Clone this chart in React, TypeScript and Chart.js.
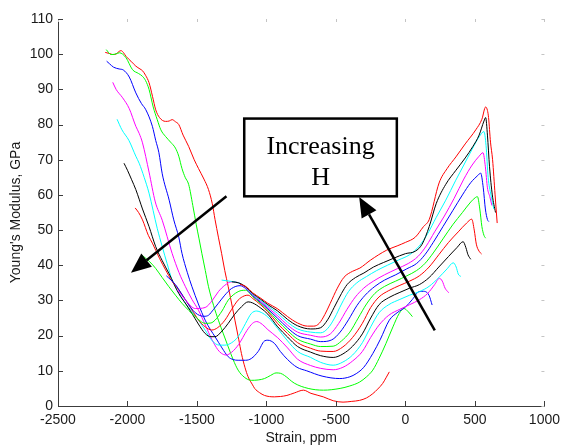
import React, { useEffect, useRef } from "react";
import { Chart, registerables } from "chart.js";

Chart.register(...registerables);

// ---- axis ticks ----
const xTickValues = [-2500, -2000, -1500, -1000, -500, 0, 500, 1000];
const yTickValues = [0, 10, 20, 30, 40, 50, 60, 70, 80, 90, 100, 110];
const xTitle = "Strain, ppm";
const yTitle = "Young's Modulus, GPa";
const boxLines = ["Increasing", "H"];

// ---- curves: [strain ppm, modulus GPa] ----
const curve01Red: number[][] = [
  [-2160, 100.5], [-2130, 100.2], [-2106, 99.9], [-2080, 100.1], [-2060, 100.8], [-2046, 101], [-2030, 100.5],
  [-2011, 99.4], [-1975, 98], [-1940, 96.6], [-1910, 95.8], [-1892, 95.3], [-1870, 94], [-1845, 91.9],
  [-1820, 88], [-1797, 84.2], [-1770, 82], [-1726, 80.9], [-1700, 81], [-1679, 81.4], [-1655, 80.8],
  [-1631, 80], [-1600, 77], [-1560, 73.8], [-1520, 70], [-1489, 67.5], [-1450, 64.5], [-1417, 61.5],
  [-1390, 57.5], [-1370, 53], [-1346, 48], [-1323, 43.4], [-1300, 38.5], [-1275, 33.9], [-1250, 29],
  [-1227, 24.4], [-1200, 19], [-1180, 14.9], [-1155, 11], [-1132, 8.3], [-1100, 6], [-1085, 5],
  [-1050, 3.8], [-1014, 3], [-943, 2.6], [-900, 2.7], [-853, 3], [-800, 3.7], [-734, 4.5], [-680, 3.6],
  [-591, 2.6], [-520, 1.5], [-449, 1.1], [-390, 1.3], [-330, 1.6], [-280, 2.3], [-235, 3.5], [-200, 4.8],
  [-164, 6.4], [-140, 8], [-116, 9.7],
];
const curve02Green: number[][] = [
  [-2153, 101.3], [-2118, 99.9], [-2090, 100], [-2058, 100.4], [-2011, 99], [-1964, 95.6], [-1920, 94.5],
  [-1892, 93.7], [-1870, 92.5], [-1845, 90], [-1815, 85], [-1786, 81.4], [-1760, 78.5], [-1726, 76.6],
  [-1690, 75], [-1655, 73.3], [-1631, 71], [-1608, 67.5], [-1585, 65], [-1560, 63], [-1530, 57],
  [-1505, 51.5], [-1485, 47.5], [-1465, 43.4], [-1440, 38.5], [-1417, 33.9], [-1380, 28.5], [-1346, 24.4],
  [-1310, 20.5], [-1275, 16.8], [-1240, 13.2], [-1204, 10.2], [-1160, 8.2], [-1109, 7.3], [-1060, 7.4],
  [-1014, 7.8], [-970, 8.7], [-931, 9.4], [-900, 9.3], [-871, 8.7], [-800, 6.5], [-700, 5], [-590, 4.5],
  [-470, 5], [-400, 5.7], [-330, 6.8], [-280, 8.3], [-235, 10.2], [-190, 13.5], [-140, 17.8], [-90, 22.5],
  [-45, 26.3], [-10, 27.7], [20, 26.8], [50, 25.4],
];
const curve03Blue: number[][] = [
  [-2150, 98], [-2130, 97.3], [-2100, 96.3], [-2060, 95.8], [-2030, 95.5], [-1987, 93.5], [-1940, 89],
  [-1900, 86], [-1868, 84.2], [-1821, 79.5], [-1797, 75.5], [-1774, 72], [-1750, 66], [-1700, 58.5],
  [-1667, 52.9], [-1631, 48], [-1608, 43.4], [-1570, 38], [-1536, 33.9], [-1490, 29], [-1441, 24.4],
  [-1400, 21.5], [-1370, 19.7], [-1320, 16.5], [-1275, 14], [-1240, 13.2], [-1204, 13], [-1150, 13],
  [-1109, 13.5], [-1060, 15.5], [-1014, 18.5], [-990, 18.7], [-943, 17.8], [-900, 15.5], [-848, 13.2],
  [-780, 11], [-710, 10], [-600, 8.5], [-472, 7.8], [-400, 8.3], [-354, 9.2], [-300, 11], [-235, 14.9],
  [-180, 19], [-116, 24.4], [-60, 26.5], [2, 28.2], [50, 30.3], [97, 32.5], [130, 32.6], [169, 31.5],
  [192, 28.7],
];
const curve04Magenta: number[][] = [
  [-2106, 92], [-2082, 90], [-2035, 87.6], [-1987, 84.5], [-1940, 79.5], [-1916, 77.5], [-1892, 74.8],
  [-1845, 66.5], [-1800, 58], [-1750, 52.8], [-1679, 43.4], [-1630, 38], [-1583, 33.9], [-1536, 30.3],
  [-1489, 27.2], [-1440, 23], [-1394, 19], [-1350, 16], [-1325, 15], [-1290, 14.5], [-1250, 15.3],
  [-1200, 17.5], [-1140, 21.5], [-1100, 23.5], [-1070, 24], [-1030, 23.2], [-990, 21.7], [-919, 19.4],
  [-848, 16.5], [-776, 13.3], [-682, 11.5], [-610, 10.7], [-520, 10.3], [-450, 11], [-380, 12.8],
  [-310, 15.5], [-250, 19.5], [-190, 23], [-120, 25.8], [-40, 27.5], [30, 28.8], [100, 30.2], [160, 32],
  [210, 34.5], [244, 36.3], [265, 35.5], [285, 33.5], [311, 32.2],
];
const curve05Cyan: number[][] = [
  [-2075, 81.5], [-2040, 78.5], [-1990, 75.5], [-1940, 71], [-1916, 69], [-1880, 65], [-1845, 60.5],
  [-1786, 50.5], [-1750, 45.3], [-1715, 40.5], [-1679, 35.8], [-1630, 32], [-1583, 29.2], [-1536, 26.8],
  [-1489, 24.4], [-1440, 21.5], [-1394, 18.7], [-1340, 17.3], [-1299, 17.3], [-1250, 18], [-1204, 19.7],
  [-1150, 23.5], [-1109, 26.3], [-1070, 27], [-1038, 26.6], [-990, 25.3], [-919, 22], [-848, 18.5],
  [-776, 15.5], [-682, 13.8], [-610, 12.4], [-520, 11.6], [-450, 12.5], [-380, 14.5], [-310, 18],
  [-250, 22.5], [-190, 26.5], [-120, 28.8], [-40, 30.3], [30, 31.5], [100, 32.5], [170, 34], [240, 36.5],
  [300, 39], [344, 40.7], [365, 39.5], [380, 37.5], [399, 36.8],
];
const curve06Black: number[][] = [
  [-2025, 69], [-2000, 67], [-1970, 64.3], [-1940, 61.5], [-1892, 56], [-1845, 51], [-1797, 45.3],
  [-1750, 41.3], [-1702, 37.7], [-1631, 32], [-1580, 29], [-1536, 26.3], [-1490, 23.3], [-1441, 20.6],
  [-1400, 19.7], [-1370, 19.7], [-1320, 21.3], [-1275, 23.5], [-1230, 26], [-1180, 28.2], [-1132, 29.6],
  [-1100, 29.3], [-1040, 27.8], [-990, 26.1], [-919, 22.5], [-848, 19.6], [-776, 16.9], [-682, 15.3],
  [-610, 14.3], [-520, 13.8], [-450, 14.8], [-380, 17], [-310, 20.5], [-250, 25], [-190, 28.8], [-120, 30.8],
  [-40, 32.3], [30, 33.5], [100, 34.5], [170, 36.5], [240, 39.5], [310, 42.5], [370, 45], [415, 46.7],
  [435, 45], [450, 43], [470, 41.7],
];
const curve07Red: number[][] = [
  [-1945, 56.3], [-1920, 55], [-1892, 52.9], [-1850, 48.5], [-1821, 46.3], [-1770, 42], [-1726, 38.7],
  [-1680, 35.5], [-1631, 33], [-1580, 30], [-1536, 27.3], [-1490, 24.5], [-1441, 22.5], [-1394, 21.6],
  [-1350, 22.3], [-1299, 24.4], [-1250, 27.5], [-1204, 30.1], [-1160, 31.3], [-1132, 31.5], [-1100, 30.6],
  [-1040, 28.7], [-990, 26.8], [-919, 23.4], [-848, 20.6], [-776, 18], [-682, 16.4], [-610, 15.6],
  [-520, 15.5], [-450, 16.8], [-380, 19.5], [-310, 23.5], [-250, 28], [-190, 31], [-120, 32.8], [-40, 34.3],
  [30, 35.5], [100, 37], [170, 39.5], [240, 43], [310, 46.5], [380, 49.5], [440, 52], [477, 53.1],
  [495, 50], [510, 46], [530, 44], [548, 43.2],
];
const curve08Green: number[][] = [
  [-1900, 43], [-1840, 41], [-1797, 39.1], [-1750, 36.5], [-1702, 33.9], [-1655, 31.5], [-1608, 29.2],
  [-1560, 27.2], [-1512, 25.4], [-1441, 23.5], [-1400, 23.6], [-1370, 24.4], [-1320, 27], [-1275, 30.1],
  [-1204, 32.5], [-1150, 32.9], [-1100, 31.1], [-1040, 29.1], [-990, 27.2], [-919, 24.2], [-848, 21.4],
  [-776, 19], [-682, 17.6], [-610, 16.9], [-520, 17], [-460, 18.5], [-400, 21], [-340, 25], [-280, 29],
  [-220, 32], [-150, 34], [-70, 35.5], [10, 37], [80, 38.5], [140, 40.5], [200, 43.5], [270, 47.5],
  [340, 51.5], [410, 55], [470, 58], [505, 59.3], [518, 59.5], [535, 56], [550, 51], [565, 48.5],
  [577, 47.7],
];
const curve09Blue: number[][] = [
  [-1720, 37], [-1655, 34.5], [-1580, 30], [-1512, 26.5], [-1450, 25.5], [-1417, 25.8], [-1380, 27.5],
  [-1346, 29.2], [-1300, 31.5], [-1251, 33.4], [-1190, 34.2], [-1150, 33.4], [-1100, 31.4], [-1040, 29.4],
  [-990, 27.6], [-919, 24.9], [-848, 22.2], [-776, 20], [-682, 19], [-610, 18.3], [-530, 18.8], [-470, 21],
  [-410, 24.5], [-350, 28.5], [-290, 31.5], [-220, 34], [-150, 35.8], [-70, 37.3], [10, 39], [80, 40.5],
  [140, 43], [200, 46.5], [270, 51], [340, 55.5], [410, 60], [470, 63.5], [520, 65.5], [541, 66.2],
  [560, 62], [575, 56], [590, 53], [600, 52.4],
];
const curve10Magenta: number[][] = [
  [-1640, 33], [-1580, 30], [-1512, 27.7], [-1441, 28], [-1390, 30], [-1346, 32.5], [-1300, 34.3],
  [-1251, 35.3], [-1200, 35], [-1150, 33.6], [-1100, 31.6], [-1040, 29.7], [-990, 28], [-919, 25.6],
  [-848, 23], [-776, 21], [-682, 20.1], [-610, 19.6], [-540, 20.5], [-480, 23.5], [-420, 27.5], [-360, 31],
  [-300, 33.5], [-230, 35.5], [-150, 37.3], [-60, 39], [20, 40.5], [90, 42.5], [150, 45.5], [210, 49.5],
  [280, 54], [350, 59], [420, 64.5], [480, 68.5], [530, 71], [558, 72], [575, 68], [590, 62],
  [607, 59.5], [622, 57],
];
const curve11Cyan: number[][] = [
  [-1323, 35.8], [-1251, 35.4], [-1200, 35], [-1150, 33.8], [-1100, 31.8], [-1040, 30], [-990, 28.4],
  [-919, 26.3], [-848, 23.8], [-776, 21.9], [-682, 21], [-610, 20.8], [-560, 22], [-510, 25], [-460, 29],
  [-410, 32.5], [-350, 35], [-280, 36.8], [-207, 38.5], [-130, 40], [-50, 41.5], [30, 43], [100, 45.5],
  [160, 49], [220, 53.5], [290, 58.5], [360, 64], [420, 68.5], [480, 73], [530, 76.5], [565, 78],
  [580, 74], [595, 65], [615, 60], [636, 56],
];
const curve12Black: number[][] = [
  [-1250, 35.3], [-1200, 35], [-1150, 33.9], [-1100, 32], [-1040, 30.3], [-990, 28.8], [-919, 27],
  [-848, 24.6], [-776, 22.8], [-682, 21.9], [-613, 22.2], [-560, 24.5], [-513, 28], [-460, 32],
  [-420, 34.5], [-360, 36.5], [-299, 37.8], [-230, 39.5], [-157, 40.8], [-85, 42], [0, 43.3], [71, 44],
  [120, 46], [171, 51], [221, 57.5], [290, 63], [363, 67], [430, 70.5], [484, 73.7], [530, 77], [565, 81],
  [577, 82], [590, 77], [605, 68], [625, 60], [648, 55],
];
const curve13Red: number[][] = [
  [-1190, 34.6], [-1150, 34], [-1100, 32.2], [-1040, 30.6], [-990, 29.2], [-919, 27.6], [-848, 25.4],
  [-776, 23.6], [-705, 22.7], [-660, 22.7], [-620, 23.5], [-580, 26], [-541, 29.2], [-490, 33.5],
  [-442, 36.6], [-380, 38.3], [-328, 39.2], [-250, 41.5], [-135, 44.3], [-60, 45.5], [0, 46.5], [71, 48],
  [130, 51], [171, 53], [242, 63.4], [300, 67.5], [363, 70.8], [430, 74.5], [506, 78.5], [550, 81.5],
  [577, 85], [590, 84], [598, 82], [612, 75], [627, 70], [645, 60], [660, 52],
];

const curves = [
  curve01Red, curve02Green, curve03Blue, curve04Magenta, curve05Cyan, curve06Black, curve07Red,
  curve08Green, curve09Blue, curve10Magenta, curve11Cyan, curve12Black, curve13Red,
];
const curveColors = [
  "#ff0000", "#00ff00", "#0000ff", "#ff00ff", "#00ffff", "#000000", "#ff0000",
  "#00ff00", "#0000ff", "#ff00ff", "#00ffff", "#000000", "#ff0000",
];

// annotation anchors in data units
const arrowDown = { from: [-1288, 59.6], to: [-1975, 37.9] };
const arrowUp = { from: [211, 21.5], to: [-333, 59.4] };
const labelBox = { x0: -1160, x1: -62, y0: 81.7, y1: 59.6 };
const labelBaselines = [71.7, 62.9];

const SANS = "'Liberation Sans', Arial, Helvetica, sans-serif";
const SERIF = "'Liberation Serif', 'Times New Roman', serif";
const AXIS = "#3c3c3c";
const FAINT = "#c4c4c4";

const decorPlugin = {
  id: "decor",
  afterDraw(chart: any) {
    const { ctx, chartArea: a } = chart;
    const xs = chart.scales.x;
    const ys = chart.scales.y;
    const line = (x1: number, y1: number, x2: number, y2: number) => {
      ctx.beginPath();
      ctx.moveTo(x1, y1);
      ctx.lineTo(x2, y2);
      ctx.stroke();
    };
    ctx.save();
    ctx.lineWidth = 1;
    xTickValues.forEach((v) => {
      const px = Math.round(xs.getPixelForValue(v)) + 0.5;
      ctx.strokeStyle = AXIS;
      line(px, a.bottom, px, a.bottom - 5);
      ctx.strokeStyle = FAINT;
      line(px, a.top, px, a.top + 3);
    });
    yTickValues.forEach((v) => {
      const py = Math.round(ys.getPixelForValue(v)) + 0.5;
      ctx.strokeStyle = AXIS;
      line(a.left, py, a.left + 5, py);
      ctx.strokeStyle = FAINT;
      line(a.right, py, a.right - 3, py);
    });

    // arrows
    const drawArrow = (arr: { from: number[]; to: number[] }) => {
      const x1 = xs.getPixelForValue(arr.from[0]);
      const y1 = ys.getPixelForValue(arr.from[1]);
      const x2 = xs.getPixelForValue(arr.to[0]);
      const y2 = ys.getPixelForValue(arr.to[1]);
      const ang = Math.atan2(y2 - y1, x2 - x1);
      const headLen = 20;
      const headHalf = 8.5;
      const bx = x2 - headLen * Math.cos(ang);
      const by = y2 - headLen * Math.sin(ang);
      ctx.strokeStyle = "#000";
      ctx.lineWidth = 2.5;
      line(x1, y1, bx, by);
      ctx.fillStyle = "#000";
      ctx.beginPath();
      ctx.moveTo(x2, y2);
      ctx.lineTo(bx + headHalf * Math.sin(ang), by - headHalf * Math.cos(ang));
      ctx.lineTo(bx - headHalf * Math.sin(ang), by + headHalf * Math.cos(ang));
      ctx.closePath();
      ctx.fill();
    };
    drawArrow(arrowDown);
    drawArrow(arrowUp);

    // label box
    const bx0 = xs.getPixelForValue(labelBox.x0);
    const bx1 = xs.getPixelForValue(labelBox.x1);
    const by0 = ys.getPixelForValue(labelBox.y0);
    const by1 = ys.getPixelForValue(labelBox.y1);
    ctx.fillStyle = "#fff";
    ctx.fillRect(bx0, by0, bx1 - bx0, by1 - by0);
    ctx.strokeStyle = "#000";
    ctx.lineWidth = 2.5;
    ctx.strokeRect(bx0, by0, bx1 - bx0, by1 - by0);
    ctx.fillStyle = "#000";
    ctx.font = `26px ${SERIF}`;
    ctx.textAlign = "center";
    ctx.textBaseline = "alphabetic";
    boxLines.forEach((t, i) => {
      ctx.fillText(t, (bx0 + bx1) / 2, ys.getPixelForValue(labelBaselines[i]));
    });

    // axis titles
    ctx.fillStyle = "#1a1a1a";
    ctx.font = `14px ${SANS}`;
    ctx.textAlign = "center";
    ctx.textBaseline = "middle";
    ctx.fillText(xTitle, (a.left + a.right) / 2, 438);
    ctx.save();
    ctx.translate(16, (a.top + a.bottom) / 2);
    ctx.rotate(-Math.PI / 2);
    ctx.fillText(yTitle, 0, 0);
    ctx.restore();
    ctx.restore();
  },
};

export default function App() {
  const ref = useRef<HTMLCanvasElement | null>(null);
  useEffect(() => {
    if (!ref.current) return;
    const chart = new Chart(ref.current, {
      type: "scatter",
      data: {
        datasets: curves.map((c, i) => ({
          label: `H${i + 1}`,
          data: c.map(([x, y]) => ({ x, y })),
          showLine: true,
          borderColor: curveColors[i],
          backgroundColor: curveColors[i],
          borderWidth: 1,
          pointRadius: 0,
          cubicInterpolationMode: "monotone" as const,
          order: 13 - i,
        })),
      },
      options: {
        animation: false,
        responsive: false,
        devicePixelRatio: 1,
        layout: { padding: { top: 19, right: 17, left: 0, bottom: 0 } },
        plugins: { legend: { display: false }, tooltip: { enabled: false } },
        scales: {
          x: {
            type: "linear",
            min: -2500,
            max: 1000,
            afterFit: (s: any) => { s.height = 41; },
            afterBuildTicks: (s: any) => { s.ticks = xTickValues.map((v) => ({ value: v })); },
            ticks: {
              padding: 6, color: "#1a1a1a", font: { family: SANS, size: 14 }, maxRotation: 0,
              callback: (v: any) => String(v),
            },
            grid: { display: false, drawTicks: false },
            border: { display: true, color: AXIS, width: 1 },
          },
          y: {
            type: "linear",
            min: 0,
            max: 110,
            afterFit: (s: any) => { s.width = 58; },
            afterBuildTicks: (s: any) => { s.ticks = yTickValues.map((v) => ({ value: v })); },
            ticks: {
              padding: 5, color: "#1a1a1a", font: { family: SANS, size: 14 },
              callback: (v: any) => String(v),
            },
            grid: { display: false, drawTicks: false },
            border: { display: true, color: AXIS, width: 1 },
          },
        },
      },
      plugins: [decorPlugin],
    });
    return () => chart.destroy();
  }, []);
  return (
    <div style={{ position: "fixed", left: 0, top: 0, width: 566, height: 447, background: "#fff" }}>
      <canvas ref={ref} width={566} height={447} />
    </div>
  );
}
